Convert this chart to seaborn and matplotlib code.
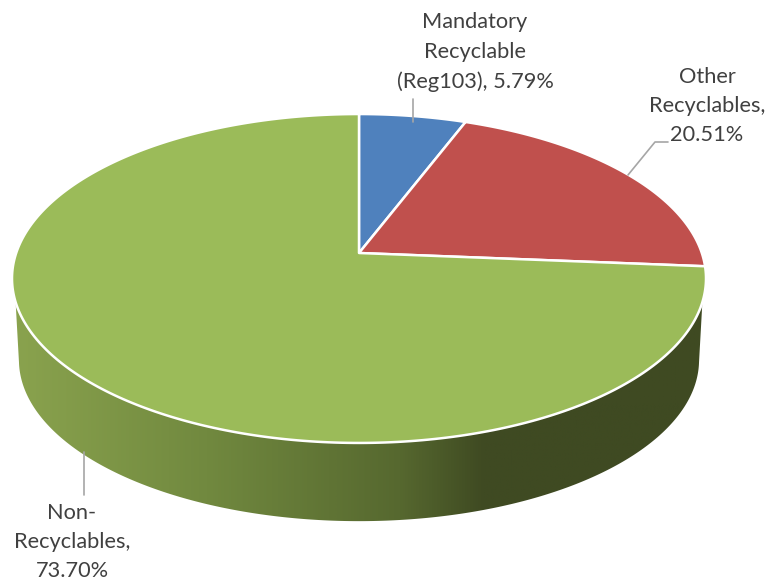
import numpy as np
import matplotlib
matplotlib.use("Agg")
import matplotlib.pyplot as plt
from matplotlib.colors import LinearSegmentedColormap
from matplotlib.patches import Polygon
import seaborn as sns

# chart data
categories = ["Mandatory\nRecyclable\n(Reg103)", "Other\nRecyclables", "Non-\nRecyclables"]
shares = [5.79, 20.51, 73.70]
slice_colors = ["#4f81bd", "#c0504d", "#9bbb59"]

sns.set_theme(style="white")
plt.rcParams['font.family'] = ['Lato', 'DejaVu Sans']

# perspective of the tilted disc, all in pixels of the picture
CX, CY = 359, 253
A, B, K = 342.8, 160.5, 0.155
WALL_DROP, WALL_SCALE = 82, 0.98


def project(xy, scale=1.0, drop=0.0):
    """Maps points of the unit disc to picture pixels."""
    x, y = np.asarray(xy).T
    d = 1 + K * y
    return np.column_stack([CX + scale * A * x / d, CY + drop - scale * B * y / d])


def arc(theta1, theta2, n=300):
    t = np.radians(np.linspace(theta1, theta2, n))
    return np.column_stack([np.cos(t), np.sin(t)])


fig = plt.figure(figsize=(7.66, 5.82), dpi=100)
ax = fig.add_axes([0, 0, 1, 1])

wedges, _ = ax.pie(shares, colors=slice_colors, startangle=90, counterclock=False)

# side wall, gradient clipped to the area under the rim
top_part = project(arc(180, 360, 721))
top_part = top_part[top_part[:, 1] > 302]
low_part = project(arc(180, 360, 721), WALL_SCALE, WALL_DROP)
low_part = low_part[low_part[:, 1] > 362]
wall = Polygon(np.vstack([top_part, low_part[::-1]]), closed=True, fc="none", ec="none")
ax.add_patch(wall)

wall_cmap = LinearSegmentedColormap.from_list(
    "wall", [(0.0, "#8aa34e"), (0.28, "#71893f"), (0.56, "#56682f"), (0.68, "#3f4a22"), (1.0, "#3f4a22")])
img = ax.imshow(np.linspace(0, 1, 512).reshape(1, -1), cmap=wall_cmap, extent=(12, 706, 530, 280),
                aspect="auto", zorder=1)
img.set_clip_path(wall)

# top face, the slices from ax.pie put into perspective
for w, col in zip(wedges, slice_colors):
    outline = np.vstack([[w.center], arc(w.theta1, w.theta2)])
    w.set_visible(False)
    ax.add_patch(Polygon(project(outline), closed=True, fc=col, ec="white", lw=1.8, zorder=2, joinstyle="round"))

ax.set_xlim(0, 766)
ax.set_ylim(582, 0)
ax.set_aspect("auto")
ax.axis("off")

# leader lines
leader = "#a6a6a6"
ax.plot([413, 413], [99, 122], color=leader, lw=1.2, zorder=3)
ax.plot([668, 655, 628], [142, 142, 175], color=leader, lw=1.2, zorder=3)
ax.plot([84, 84], [452, 495], color=leader, lw=1.2, zorder=3)

# labels
label_pos = [(475, 52), (707, 106), (72, 542)]
for name, val, (lx, ly) in zip(categories, shares, label_pos):
    ax.text(lx, ly, f"{name}, {val:.2f}%".replace("Recyclables, ", "Recyclables,\n"), ha="center", va="center",
            fontsize=15.7, color="#404040", linespacing=1.58)

fig.savefig("out.png", dpi=100)
